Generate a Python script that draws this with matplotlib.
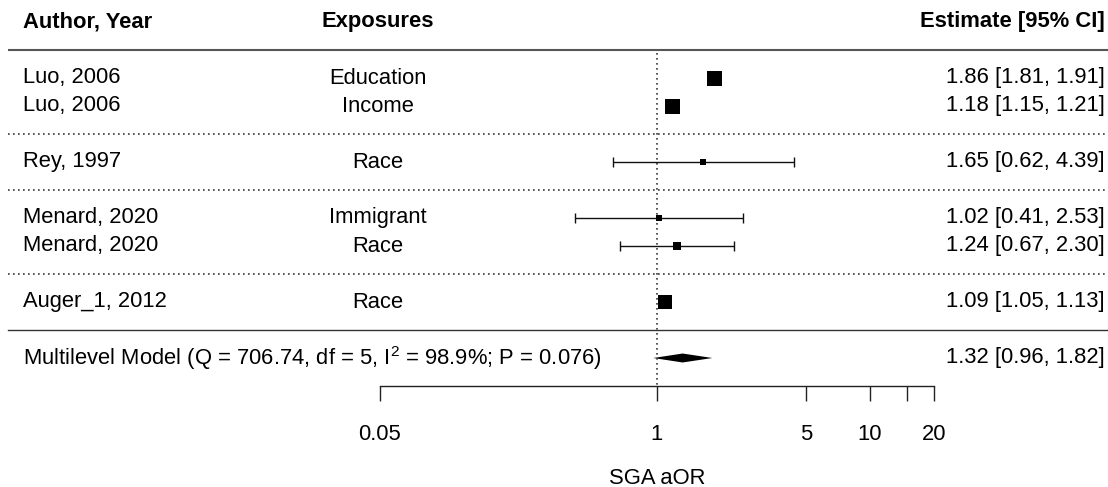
import numpy as np
import matplotlib
matplotlib.use("Agg")
import matplotlib.pyplot as plt

plt.rcParams['font.family'] = ['Liberation Sans', 'DejaVu Sans']
plt.rcParams['mathtext.fontset'] = 'custom'
plt.rcParams['mathtext.rm'] = 'Liberation Sans'
plt.rcParams['mathtext.it'] = 'Liberation Sans:italic'

# ---- data ----
authors = ["Luo, 2006", "Luo, 2006", "Rey, 1997", "Menard, 2020", "Menard, 2020", "Auger_1, 2012"]
exposures = ["Education", "Income", "Race", "Immigrant", "Race", "Race"]
est = [1.86, 1.18, 1.65, 1.02, 1.24, 1.09]
ci_lo = [1.81, 1.15, 0.62, 0.41, 0.67, 1.05]
ci_hi = [1.91, 1.21, 4.39, 2.53, 2.30, 1.13]
# relative study weight (0 = smallest box, 1 = largest box)
rel_weight = [1.0, 1.0, 0.0, 0.0, 0.35, 0.95]

pooled_est, pooled_lo, pooled_hi = 1.32, 0.96, 1.82
model_label = r"Multilevel Model (Q = 706.74, df = 5, I$^{\mathrm{2}}$ = 98.9%; P = 0.076)"

tick_vals = [0.05, 1, 5, 10, 15, 20]
tick_labels = ["0.05", "1", "5", "10", "", "20"]
xlabel = "SGA aOR"
headers = ["Author, Year", "Exposures", "Estimate [95% CI]"]

# ---- layout (pixels of a 1108x487 canvas) ----
W, H = 1108, 487
FS = 15.8
px_one = 657.0      # x pixel of OR = 1
px_per_ln = 92.5    # pixels per unit of ln(OR)
row_px0, row_h = 78.0, 28.0

fig = plt.figure(figsize=(W / 100, H / 100), dpi=100)
ax = fig.add_axes([0, 0, 1, 1])
ax.set_xscale('log')
ax.set_xlim(np.exp(-px_one / px_per_ln), np.exp((W - px_one) / px_per_ln))
ax.set_ylim((H - row_px0) / row_h, -row_px0 / row_h)

# rows: studies listed top-down, a blank row between author groups
rows, seps = [], []
r = 0
for i, a in enumerate(authors):
    if i > 0 and a != authors[i - 1]:
        seps.append(r)
        r += 1
    rows.append(r)
    r += 1
solid_row = r
model_row = r + 1
axis_row = r + 2

def px2ax(px):
    return px / W

# separators
ax.plot([px2ax(8), 1], [-1, -1], color='#555555', lw=1.5,
        transform=ax.get_yaxis_transform(), solid_capstyle='butt')
for s in seps:
    ax.plot([px2ax(8), 1], [s, s], color='#3a3a3a', lw=1.2, ls=(0, (1, 2.0)),
            transform=ax.get_yaxis_transform())
ax.plot([px2ax(8), 1], [solid_row, solid_row], color='#333333', lw=1.0,
        transform=ax.get_yaxis_transform())

# reference line at OR = 1
ax.plot([1, 1], [-0.9, axis_row], color='#3a3a3a', lw=1.2, ls=(0, (1, 2.0)))

# study estimates
for i in range(len(est)):
    ax.errorbar(est[i], rows[i], xerr=[[est[i] - ci_lo[i]], [ci_hi[i] - est[i]]],
                fmt='none', ecolor='#111111', elinewidth=1.0, capsize=3.6, capthick=1.0)
    size_pt = (5.5 + 9.5 * rel_weight[i]) * 0.72
    ax.plot(est[i], rows[i], marker='s', ms=size_pt, color='black', mec='black', mew=0)

# pooled diamond
dh = 0.16
ax.fill([pooled_lo, pooled_est, pooled_hi, pooled_est],
        [model_row, model_row - dh, model_row, model_row + dh],
        color='black', lw=0)

# text columns
col_author = px2ax(23)
col_expo = px2ax(378)
col_est = px2ax(1105)
tr = ax.get_yaxis_transform()
ax.text(col_author, -2, headers[0], transform=tr, fontsize=FS, fontweight='bold', va='center', ha='left')
ax.text(col_expo, -2, headers[1], transform=tr, fontsize=FS, fontweight='bold', va='center', ha='center')
ax.text(col_est, -2, headers[2], transform=tr, fontsize=FS, fontweight='bold', va='center', ha='right')
for i in range(len(est)):
    ax.text(col_author, rows[i], authors[i], transform=tr, fontsize=FS, va='center', ha='left')
    ax.text(col_expo, rows[i], exposures[i], transform=tr, fontsize=FS, va='center', ha='center')
    ax.text(col_est, rows[i], f"{est[i]:.2f} [{ci_lo[i]:.2f}, {ci_hi[i]:.2f}]",
            transform=tr, fontsize=FS, va='center', ha='right')
ax.text(col_author, model_row, model_label, transform=tr, fontsize=FS, va='center', ha='left')
ax.text(col_est, model_row, f"{pooled_est:.2f} [{pooled_lo:.2f}, {pooled_hi:.2f}]",
        transform=tr, fontsize=FS, va='center', ha='right')

# x axis
for side in ['top', 'left', 'right']:
    ax.spines[side].set_visible(False)
ax.spines['bottom'].set_position(('data', axis_row))
ax.spines['bottom'].set_bounds(tick_vals[0], tick_vals[-1])
ax.spines['bottom'].set_linewidth(1.0)
ax.spines['bottom'].set_color('#222222')
ax.set_yticks([])
ax.set_xticks(tick_vals)
ax.set_xticklabels(tick_labels)
ax.xaxis.set_minor_locator(matplotlib.ticker.NullLocator())
ax.tick_params(axis='x', direction='out', length=10.8, width=1.0, color='#222222',
               labelsize=FS, pad=16.5)
ax.text(1, axis_row + 3.3, xlabel, fontsize=FS, ha='center', va='center')

fig.savefig("out.png", dpi=100)
